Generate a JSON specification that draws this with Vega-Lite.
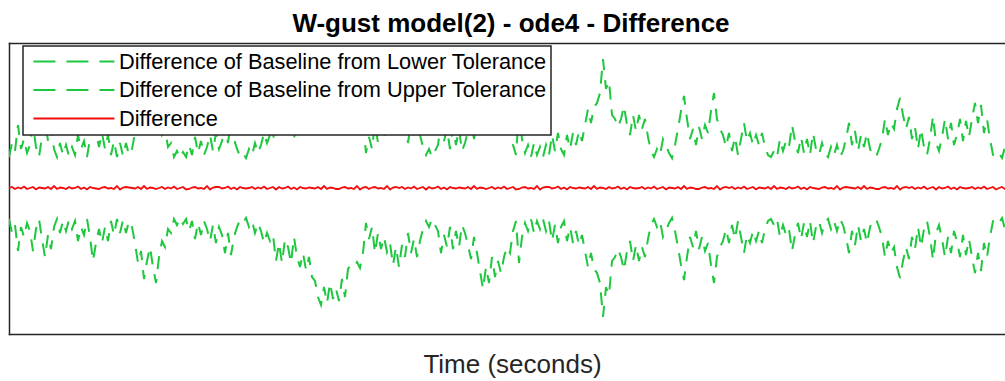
{
"$schema":"https://vega.github.io/schema/vega-lite/v6.json",
"width":996,"height":291,
"autosize":{"type":"none"},
"padding":{"left":9,"top":43,"right":0,"bottom":47},
"background":"white",
"title":{"text":"W-gust model(2) - ode4 - Difference","font":"Liberation Sans","fontSize":26,"fontWeight":"bold","color":"#000000","anchor":"middle","frame":"group","baseline":"alphabetic","offset":11,"dx":4,"dy":26},
"config":{"view":{"stroke":null},"axis":{"domainCap":"square"},"font":"Liberation Sans",
"legend":{"orient":"none","legendX":14,"legendY":3,"title":null,"symbolType":"M-0.5,0H7.5","symbolSize":410,"symbolStrokeWidth":2,"labelFont":"Liberation Sans","labelFontSize":21.75,"labelColor":"#000000","labelLimit":700,"labelOffset":69,"rowPadding":4.5,"padding":4,"fillColor":"white","strokeColor":"#262626"}},
"datasets":{"main":[
{"t":0,"lo":-31,"up":31,"d":0},{"t":3,"lo":-45,"up":45,"d":1},{"t":6,"lo":-37,"up":37,"d":-1},{"t":9,"lo":-63,"up":63,"d":0.5},{"t":12,"lo":-39,"up":39,"d":-0.5},{"t":15,"lo":-49,"up":49,"d":1.5},{"t":18,"lo":-35,"up":35,"d":-1},{"t":21,"lo":-43,"up":43,"d":0},{"t":24,"lo":-63,"up":63,"d":1},{"t":27,"lo":-41,"up":41,"d":-1.5},
{"t":30,"lo":-31,"up":31,"d":0.5},{"t":33,"lo":-51,"up":51,"d":0},{"t":36,"lo":-69,"up":69,"d":-0.5},{"t":39,"lo":-47,"up":47,"d":1},{"t":42,"lo":-61,"up":61,"d":-1},{"t":45,"lo":-39,"up":39,"d":2},{"t":48,"lo":-31,"up":31,"d":-1},{"t":51,"lo":-45,"up":45,"d":0.5},{"t":54,"lo":-33,"up":33,"d":0},{"t":57,"lo":-43,"up":43,"d":-1},
{"t":60,"lo":-32,"up":32,"d":1},{"t":63,"lo":-41,"up":41,"d":-0.5},{"t":66,"lo":-33,"up":33,"d":0},{"t":69,"lo":-53,"up":53,"d":1.5},{"t":72,"lo":-39,"up":39,"d":-1},{"t":75,"lo":-47,"up":47,"d":0.5},{"t":78,"lo":-31,"up":31,"d":-1.5},{"t":81,"lo":-49,"up":49,"d":1},{"t":84,"lo":-73,"up":73,"d":0},{"t":87,"lo":-55,"up":55,"d":-0.5},
{"t":90,"lo":-41,"up":41,"d":-1},{"t":93,"lo":-55,"up":55,"d":0.5},{"t":96,"lo":-39,"up":39,"d":1},{"t":99,"lo":-53,"up":53,"d":-0.5},{"t":102,"lo":-33,"up":33,"d":0},{"t":105,"lo":-47,"up":47,"d":-1},{"t":108,"lo":-31,"up":31,"d":2},{"t":111,"lo":-45,"up":45,"d":-1.5},{"t":114,"lo":-32,"up":32,"d":0.5},{"t":117,"lo":-45,"up":45,"d":1},
{"t":120,"lo":-33,"up":33,"d":0.5},{"t":123,"lo":-39,"up":39,"d":0},{"t":126,"lo":-55,"up":55,"d":-0.5},{"t":129,"lo":-75,"up":75,"d":1},{"t":132,"lo":-63,"up":63,"d":-1},{"t":135,"lo":-91,"up":91,"d":2},{"t":138,"lo":-73,"up":73,"d":-1},{"t":141,"lo":-59,"up":59,"d":0.5},{"t":144,"lo":-79,"up":79,"d":0},{"t":147,"lo":-95,"up":95,"d":-1},
{"t":150,"lo":-69,"up":69,"d":0},{"t":153,"lo":-53,"up":53,"d":1},{"t":156,"lo":-59,"up":59,"d":-1},{"t":159,"lo":-41,"up":41,"d":0.5},{"t":162,"lo":-45,"up":45,"d":-0.5},{"t":165,"lo":-31,"up":31,"d":1.5},{"t":168,"lo":-37,"up":37,"d":-1},{"t":171,"lo":-30,"up":30,"d":0},{"t":174,"lo":-36,"up":36,"d":1},{"t":177,"lo":-31,"up":31,"d":-1.5},
{"t":180,"lo":-43,"up":43,"d":-1},{"t":183,"lo":-33,"up":33,"d":0.5},{"t":186,"lo":-51,"up":51,"d":1},{"t":189,"lo":-35,"up":35,"d":-0.5},{"t":192,"lo":-47,"up":47,"d":0},{"t":195,"lo":-33,"up":33,"d":-1},{"t":198,"lo":-41,"up":41,"d":2},{"t":201,"lo":-53,"up":53,"d":-1.5},{"t":204,"lo":-37,"up":37,"d":0.5},{"t":207,"lo":-55,"up":55,"d":1},
{"t":210,"lo":-39,"up":39,"d":1},{"t":213,"lo":-47,"up":47,"d":-0.5},{"t":216,"lo":-65,"up":65,"d":0},{"t":219,"lo":-45,"up":45,"d":1.5},{"t":222,"lo":-67,"up":67,"d":-1},{"t":225,"lo":-49,"up":49,"d":0.5},{"t":228,"lo":-39,"up":39,"d":-1.5},{"t":231,"lo":-32,"up":32,"d":1},{"t":234,"lo":-35,"up":35,"d":0},{"t":237,"lo":-30,"up":30,"d":-0.5},
{"t":240,"lo":-39,"up":39,"d":0},{"t":243,"lo":-33,"up":33,"d":1},{"t":246,"lo":-45,"up":45,"d":-1},{"t":249,"lo":-35,"up":35,"d":0.5},{"t":252,"lo":-43,"up":43,"d":-0.5},{"t":255,"lo":-55,"up":55,"d":1.5},{"t":258,"lo":-45,"up":45,"d":-1},{"t":261,"lo":-53,"up":53,"d":0},{"t":264,"lo":-47,"up":47,"d":1},{"t":267,"lo":-73,"up":73,"d":-1.5},
{"t":270,"lo":-55,"up":55,"d":1},{"t":273,"lo":-75,"up":75,"d":-0.5},{"t":276,"lo":-51,"up":51,"d":0},{"t":279,"lo":-59,"up":59,"d":1.5},{"t":282,"lo":-75,"up":75,"d":-1},{"t":285,"lo":-49,"up":49,"d":0.5},{"t":288,"lo":-69,"up":69,"d":-1.5},{"t":291,"lo":-79,"up":79,"d":1},{"t":294,"lo":-65,"up":65,"d":0},{"t":297,"lo":-82,"up":82,"d":-0.5},
{"t":300,"lo":-69,"up":69,"d":0.5},{"t":303,"lo":-89,"up":89,"d":0},{"t":306,"lo":-93,"up":93,"d":-0.5},{"t":309,"lo":-109,"up":109,"d":1},{"t":312,"lo":-117,"up":117,"d":-1},{"t":315,"lo":-99,"up":99,"d":2},{"t":318,"lo":-115,"up":115,"d":-1},{"t":321,"lo":-95,"up":95,"d":0.5},{"t":324,"lo":-111,"up":111,"d":0},{"t":327,"lo":-101,"up":101,"d":-1},
{"t":330,"lo":-113,"up":113,"d":-1},{"t":333,"lo":-91,"up":91,"d":0.5},{"t":336,"lo":-109,"up":109,"d":1},{"t":339,"lo":-81,"up":81,"d":-0.5},{"t":342,"lo":-77,"up":77,"d":0},{"t":345,"lo":-79,"up":79,"d":-1},{"t":348,"lo":-74,"up":74,"d":2},{"t":351,"lo":-80,"up":80,"d":-1.5},{"t":354,"lo":-65,"up":65,"d":0.5},{"t":357,"lo":-35,"up":35,"d":1},
{"t":360,"lo":-51,"up":51,"d":-1},{"t":363,"lo":-39,"up":39,"d":0.5},{"t":366,"lo":-65,"up":65,"d":1},{"t":369,"lo":-45,"up":45,"d":-0.5},{"t":372,"lo":-61,"up":61,"d":0},{"t":375,"lo":-49,"up":49,"d":-1},{"t":378,"lo":-64,"up":64,"d":2},{"t":381,"lo":-55,"up":55,"d":-1.5},{"t":384,"lo":-77,"up":77,"d":0.5},{"t":387,"lo":-59,"up":59,"d":1},
{"t":390,"lo":-79,"up":79,"d":0},{"t":393,"lo":-57,"up":57,"d":1},{"t":396,"lo":-69,"up":69,"d":-1},{"t":399,"lo":-45,"up":45,"d":0.5},{"t":402,"lo":-65,"up":65,"d":-0.5},{"t":405,"lo":-51,"up":51,"d":1.5},{"t":408,"lo":-69,"up":69,"d":-1},{"t":411,"lo":-53,"up":53,"d":0},{"t":414,"lo":-41,"up":41,"d":1},{"t":417,"lo":-33,"up":33,"d":-1.5},
{"t":420,"lo":-39,"up":39,"d":1},{"t":423,"lo":-31,"up":31,"d":-0.5},{"t":426,"lo":-37,"up":37,"d":0},{"t":429,"lo":-43,"up":43,"d":1.5},{"t":432,"lo":-65,"up":65,"d":-1},{"t":435,"lo":-47,"up":47,"d":0.5},{"t":438,"lo":-59,"up":59,"d":-1.5},{"t":441,"lo":-39,"up":39,"d":1},{"t":444,"lo":-61,"up":61,"d":0},{"t":447,"lo":-43,"up":43,"d":-0.5},
{"t":450,"lo":-59,"up":59,"d":0.5},{"t":453,"lo":-37,"up":37,"d":0},{"t":456,"lo":-45,"up":45,"d":-0.5},{"t":459,"lo":-57,"up":57,"d":1},{"t":462,"lo":-71,"up":71,"d":-1},{"t":465,"lo":-49,"up":49,"d":2},{"t":468,"lo":-65,"up":65,"d":-1},{"t":471,"lo":-83,"up":83,"d":0.5},{"t":474,"lo":-101,"up":101,"d":0},{"t":477,"lo":-79,"up":79,"d":-1},
{"t":480,"lo":-95,"up":95,"d":0},{"t":483,"lo":-69,"up":69,"d":1},{"t":486,"lo":-89,"up":89,"d":-1},{"t":489,"lo":-73,"up":73,"d":0.5},{"t":492,"lo":-85,"up":85,"d":-0.5},{"t":495,"lo":-69,"up":69,"d":1.5},{"t":498,"lo":-59,"up":59,"d":-1},{"t":501,"lo":-65,"up":65,"d":0},{"t":504,"lo":-43,"up":43,"d":1},{"t":507,"lo":-33,"up":33,"d":-1.5},
{"t":510,"lo":-75,"up":75,"d":-1},{"t":513,"lo":-49,"up":49,"d":0.5},{"t":516,"lo":-35,"up":35,"d":1},{"t":519,"lo":-43,"up":43,"d":-0.5},{"t":522,"lo":-31,"up":31,"d":0},{"t":525,"lo":-45,"up":45,"d":-1},{"t":528,"lo":-33,"up":33,"d":2},{"t":531,"lo":-41,"up":41,"d":-1.5},{"t":534,"lo":-31,"up":31,"d":0.5},{"t":537,"lo":-43,"up":43,"d":1},
{"t":540,"lo":-33,"up":33,"d":1},{"t":543,"lo":-53,"up":53,"d":-0.5},{"t":546,"lo":-37,"up":37,"d":0},{"t":549,"lo":-55,"up":55,"d":1.5},{"t":552,"lo":-39,"up":39,"d":-1},{"t":555,"lo":-33,"up":33,"d":0.5},{"t":558,"lo":-53,"up":53,"d":-1.5},{"t":561,"lo":-39,"up":39,"d":1},{"t":564,"lo":-55,"up":55,"d":0},{"t":567,"lo":-43,"up":43,"d":-0.5},
{"t":570,"lo":-57,"up":57,"d":0.5},{"t":573,"lo":-47,"up":47,"d":0},{"t":576,"lo":-63,"up":63,"d":-0.5},{"t":579,"lo":-79,"up":79,"d":1},{"t":582,"lo":-65,"up":65,"d":-1},{"t":585,"lo":-81,"up":81,"d":2},{"t":588,"lo":-85,"up":85,"d":-1},{"t":591,"lo":-95,"up":95,"d":0.5},{"t":594,"lo":-129,"up":129,"d":0},{"t":597,"lo":-99,"up":99,"d":-1},
{"t":600,"lo":-107,"up":107,"d":1},{"t":603,"lo":-73,"up":73,"d":-0.5},{"t":606,"lo":-69,"up":69,"d":0},{"t":609,"lo":-61,"up":61,"d":1.5},{"t":612,"lo":-69,"up":69,"d":-1},{"t":615,"lo":-82,"up":82,"d":0.5},{"t":618,"lo":-63,"up":63,"d":-1.5},{"t":621,"lo":-53,"up":53,"d":1},{"t":624,"lo":-73,"up":73,"d":0},{"t":627,"lo":-57,"up":57,"d":-0.5},
{"t":630,"lo":-73,"up":73,"d":0},{"t":633,"lo":-59,"up":59,"d":1},{"t":636,"lo":-69,"up":69,"d":-1},{"t":639,"lo":-51,"up":51,"d":0.5},{"t":642,"lo":-37,"up":37,"d":-0.5},{"t":645,"lo":-31,"up":31,"d":1.5},{"t":648,"lo":-39,"up":39,"d":-1},{"t":651,"lo":-33,"up":33,"d":0},{"t":654,"lo":-49,"up":49,"d":1},{"t":657,"lo":-43,"up":43,"d":-1.5},
{"t":660,"lo":-35,"up":35,"d":0.5},{"t":663,"lo":-30,"up":30,"d":0},{"t":666,"lo":-43,"up":43,"d":-0.5},{"t":669,"lo":-59,"up":59,"d":1},{"t":672,"lo":-77,"up":77,"d":-1},{"t":675,"lo":-92,"up":92,"d":2},{"t":678,"lo":-69,"up":69,"d":-1},{"t":681,"lo":-49,"up":49,"d":0.5},{"t":684,"lo":-59,"up":59,"d":0},{"t":687,"lo":-43,"up":43,"d":-1},
{"t":690,"lo":-61,"up":61,"d":-1},{"t":693,"lo":-49,"up":49,"d":0.5},{"t":696,"lo":-63,"up":63,"d":1},{"t":699,"lo":-55,"up":55,"d":-0.5},{"t":702,"lo":-77,"up":77,"d":0},{"t":705,"lo":-95,"up":95,"d":-1},{"t":708,"lo":-69,"up":69,"d":2},{"t":711,"lo":-59,"up":59,"d":-1.5},{"t":714,"lo":-53,"up":53,"d":0.5},{"t":717,"lo":-41,"up":41,"d":1},
{"t":720,"lo":-55,"up":55,"d":0},{"t":723,"lo":-37,"up":37,"d":1},{"t":726,"lo":-51,"up":51,"d":-1},{"t":729,"lo":-33,"up":33,"d":0.5},{"t":732,"lo":-49,"up":49,"d":-0.5},{"t":735,"lo":-65,"up":65,"d":1.5},{"t":738,"lo":-47,"up":47,"d":-1},{"t":741,"lo":-55,"up":55,"d":0},{"t":744,"lo":-43,"up":43,"d":1},{"t":747,"lo":-53,"up":53,"d":-1.5},
{"t":750,"lo":-43,"up":43,"d":0.5},{"t":753,"lo":-55,"up":55,"d":0},{"t":756,"lo":-41,"up":41,"d":-0.5},{"t":759,"lo":-33,"up":33,"d":1},{"t":762,"lo":-31,"up":31,"d":-1},{"t":765,"lo":-37,"up":37,"d":2},{"t":768,"lo":-31,"up":31,"d":-1},{"t":771,"lo":-49,"up":49,"d":0.5},{"t":774,"lo":-37,"up":37,"d":0},{"t":777,"lo":-47,"up":47,"d":-1},
{"t":780,"lo":-41,"up":41,"d":1},{"t":783,"lo":-63,"up":63,"d":-0.5},{"t":786,"lo":-47,"up":47,"d":0},{"t":789,"lo":-35,"up":35,"d":1.5},{"t":792,"lo":-51,"up":51,"d":-1},{"t":795,"lo":-35,"up":35,"d":0.5},{"t":798,"lo":-49,"up":49,"d":-1.5},{"t":801,"lo":-33,"up":33,"d":1},{"t":804,"lo":-55,"up":55,"d":0},{"t":807,"lo":-39,"up":39,"d":-0.5},
{"t":810,"lo":-33,"up":33,"d":-1},{"t":813,"lo":-45,"up":45,"d":0.5},{"t":816,"lo":-35,"up":35,"d":1},{"t":819,"lo":-31,"up":31,"d":-0.5},{"t":822,"lo":-41,"up":41,"d":0},{"t":825,"lo":-33,"up":33,"d":-1},{"t":828,"lo":-43,"up":43,"d":2},{"t":831,"lo":-31,"up":31,"d":-1.5},{"t":834,"lo":-37,"up":37,"d":0.5},{"t":837,"lo":-49,"up":49,"d":1},
{"t":840,"lo":-65,"up":65,"d":0.5},{"t":843,"lo":-43,"up":43,"d":0},{"t":846,"lo":-57,"up":57,"d":-0.5},{"t":849,"lo":-37,"up":37,"d":1},{"t":852,"lo":-53,"up":53,"d":-1},{"t":855,"lo":-41,"up":41,"d":2},{"t":858,"lo":-55,"up":55,"d":-1},{"t":861,"lo":-39,"up":39,"d":0.5},{"t":864,"lo":-33,"up":33,"d":0},{"t":867,"lo":-31,"up":31,"d":-1},
{"t":870,"lo":-39,"up":39,"d":-1},{"t":873,"lo":-49,"up":49,"d":0.5},{"t":876,"lo":-69,"up":69,"d":1},{"t":879,"lo":-53,"up":53,"d":-0.5},{"t":882,"lo":-65,"up":65,"d":0},{"t":885,"lo":-59,"up":59,"d":-1},{"t":888,"lo":-79,"up":79,"d":2},{"t":891,"lo":-90,"up":90,"d":-1.5},{"t":894,"lo":-73,"up":73,"d":0.5},{"t":897,"lo":-59,"up":59,"d":1},
{"t":900,"lo":-71,"up":71,"d":0},{"t":903,"lo":-49,"up":49,"d":1},{"t":906,"lo":-61,"up":61,"d":-1},{"t":909,"lo":-39,"up":39,"d":0.5},{"t":912,"lo":-59,"up":59,"d":-0.5},{"t":915,"lo":-41,"up":41,"d":1.5},{"t":918,"lo":-33,"up":33,"d":-1},{"t":921,"lo":-49,"up":49,"d":0},{"t":924,"lo":-72,"up":72,"d":1},{"t":927,"lo":-45,"up":45,"d":-1.5},
{"t":930,"lo":-37,"up":37,"d":1},{"t":933,"lo":-51,"up":51,"d":-0.5},{"t":936,"lo":-69,"up":69,"d":0},{"t":939,"lo":-49,"up":49,"d":1.5},{"t":942,"lo":-65,"up":65,"d":-1},{"t":945,"lo":-43,"up":43,"d":0.5},{"t":948,"lo":-53,"up":53,"d":-1.5},{"t":951,"lo":-69,"up":69,"d":1},{"t":954,"lo":-47,"up":47,"d":0},{"t":957,"lo":-67,"up":67,"d":-0.5},
{"t":960,"lo":-51,"up":51,"d":0},{"t":963,"lo":-69,"up":69,"d":1},{"t":966,"lo":-85,"up":85,"d":-1},{"t":969,"lo":-65,"up":65,"d":0.5},{"t":972,"lo":-83,"up":83,"d":-0.5},{"t":975,"lo":-55,"up":55,"d":1.5},{"t":978,"lo":-69,"up":69,"d":-1},{"t":981,"lo":-49,"up":49,"d":0},{"t":984,"lo":-33,"up":33,"d":1},{"t":987,"lo":-31,"up":31,"d":-1.5},
{"t":990,"lo":-35,"up":35,"d":0},{"t":993,"lo":-30,"up":30,"d":1},{"t":996,"lo":-41,"up":41,"d":-1},{"t":999,"lo":-33,"up":33,"d":0.5},{"t":1002,"lo":-45,"up":45,"d":0}
]},
"resolve":{"axis":{"x":"independent"}},
"layer":[
{
"data":{"name":"main"},
"transform":[{"fold":["lo","up"],"as":["s","v"]}],
"mark":{"type":"line","clip":true,"strokeWidth":2,"strokeDash":[13,10]},
"encoding":{
"x":{"field":"t","type":"quantitative","scale":{"domain":[0,996],"nice":false,"zero":false},
"axis":{"orient":"bottom","ticks":false,"labels":false,"grid":false,"domainColor":"#262626","domainWidth":1.5,"title":"Time (seconds)","titleFont":"Liberation Sans","titleFontSize":26,"titleFontWeight":"normal","titleColor":"#262626","titleX":503,"titleY":38,"titleBaseline":"alphabetic","titleAlign":"center"}},
"y":{"field":"v","type":"quantitative","scale":{"domain":[-146,145],"nice":false,"zero":false},
"axis":{"orient":"left","ticks":false,"labels":false,"grid":false,"title":null,"domainColor":"#262626","domainWidth":1.5}},
"color":{"field":"s","type":"nominal","scale":{"domain":["lo","up","d"],"range":["#1dc83e","#1dc83e","#f20d0d"]},
"legend":{"labelExpr":"datum.value === 'lo' ? 'Difference of Baseline from Lower Tolerance' : datum.value === 'up' ? 'Difference of Baseline from Upper Tolerance' : 'Difference'",
"encode":{"symbols":{"update":{"strokeDash":{"signal":"datum.value === 'd' ? [1,0] : [22,11]"}}},"legend":{"update":{"strokeWidth":{"value":1.5}}}}}}
}
},
{
"data":{"name":"main"},
"transform":[{"fold":["d"],"as":["s","v"]}],
"mark":{"type":"line","clip":true,"strokeWidth":1.8},
"encoding":{
"x":{"field":"t","type":"quantitative","axis":null},
"y":{"field":"v","type":"quantitative","axis":{"orient":"left","ticks":false,"labels":false,"grid":false,"title":null,"domainColor":"#262626","domainWidth":1.5}},
"color":{"field":"s","type":"nominal","scale":{"domain":["lo","up","d"],"range":["#1dc83e","#1dc83e","#f20d0d"]},
"legend":{"labelExpr":"datum.value === 'lo' ? 'Difference of Baseline from Lower Tolerance' : datum.value === 'up' ? 'Difference of Baseline from Upper Tolerance' : 'Difference'",
"encode":{"symbols":{"update":{"strokeDash":{"signal":"datum.value === 'd' ? [1,0] : [22,11]"}}},"legend":{"update":{"strokeWidth":{"value":1.5}}}}}}
}
},
{
"data":{"values":[{}]},
"mark":{"type":"rule","strokeOpacity":0},
"encoding":{"x":{"datum":0,"type":"quantitative","axis":{"orient":"top","ticks":false,"labels":false,"grid":false,"title":null,"domainColor":"#262626","domainWidth":1.5}}}
}
]
}
